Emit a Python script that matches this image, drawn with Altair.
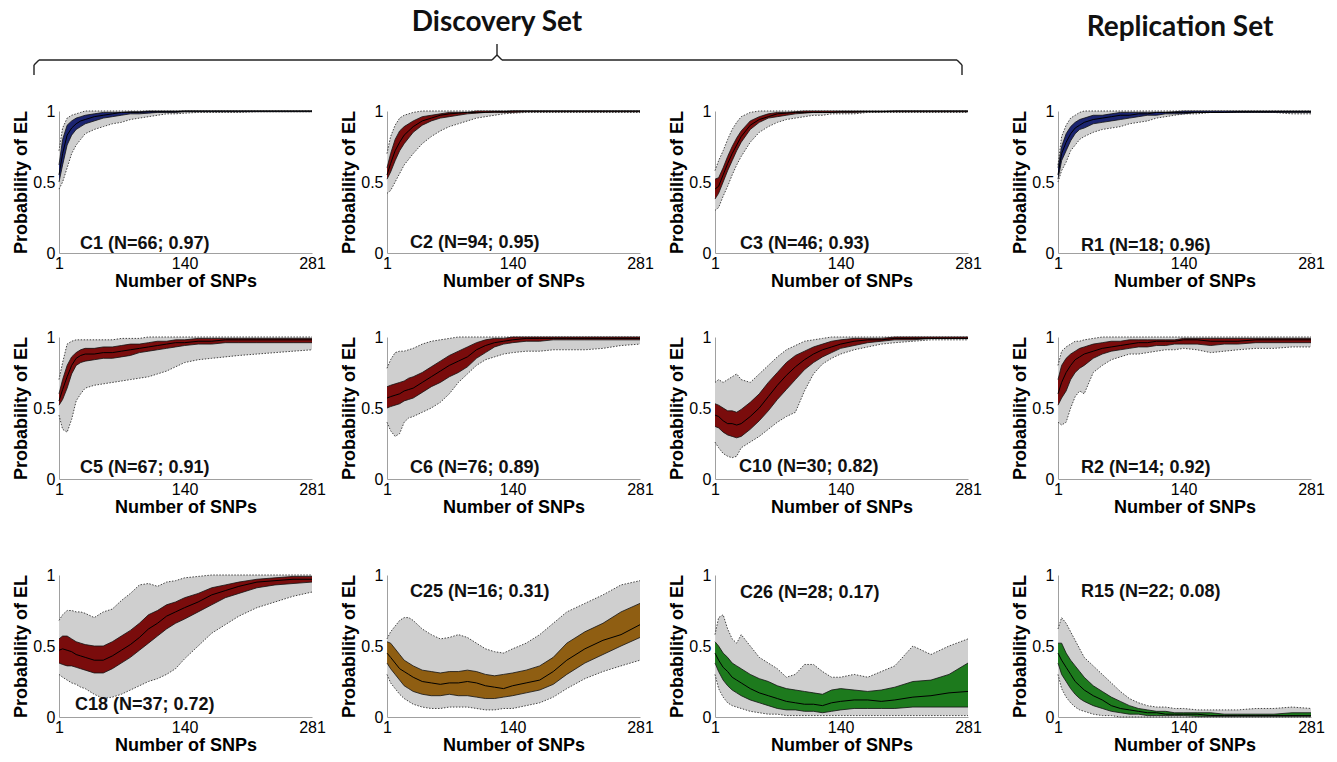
import altair as alt
import pandas as pd

XS = [1, 5, 10, 15, 20, 25, 30, 40, 50, 60, 70, 80, 90,
      100, 110, 120, 130, 140, 155, 170, 185, 200, 220, 240, 260, 281]

C1 = {
    "lo":  [0.45, 0.50, 0.60, 0.70, 0.76, 0.80, 0.84, 0.87, 0.89, 0.91, 0.92, 0.94, 0.95,
            0.96, 0.97, 0.98, 0.98, 0.985, 0.99, 0.99, 0.99, 0.99, 0.995, 0.995, 0.995, 0.995],
    "q1":  [0.50, 0.62, 0.76, 0.83, 0.87, 0.89, 0.91, 0.93, 0.95, 0.96, 0.97, 0.98, 0.98,
            0.985, 0.99, 0.99, 0.99, 0.995, 0.995, 0.995, 0.995, 0.995, 0.995, 0.995, 0.995, 0.995],
    "med": [0.55, 0.70, 0.83, 0.88, 0.91, 0.93, 0.94, 0.96, 0.97, 0.98, 0.99, 0.99, 0.99,
            0.995, 0.995, 0.995, 0.995, 1, 1, 1, 1, 1, 1, 1, 1, 1],
    "q3":  [0.62, 0.80, 0.90, 0.93, 0.95, 0.96, 0.97, 0.98, 0.99, 0.99, 0.99, 0.995, 0.995,
            1, 1, 1, 1, 1, 1, 1, 1, 1, 1, 1, 1, 1],
    "hi":  [0.72, 0.88, 0.95, 0.97, 0.98, 0.99, 1, 1, 1, 1, 1, 1, 1,
            1, 1, 1, 1, 1, 1, 1, 1, 1, 1, 1, 1, 1],
}
C2 = {
    "lo":  [0.42, 0.44, 0.50, 0.56, 0.62, 0.66, 0.70, 0.77, 0.82, 0.86, 0.89, 0.91, 0.93,
            0.95, 0.96, 0.97, 0.98, 0.985, 0.99, 0.99, 0.99, 0.99, 0.99, 0.99, 0.99, 0.99],
    "q1":  [0.52, 0.57, 0.65, 0.72, 0.77, 0.81, 0.85, 0.90, 0.93, 0.95, 0.96, 0.97, 0.98,
            0.985, 0.99, 0.99, 0.99, 0.99, 0.995, 0.995, 0.995, 0.995, 0.995, 0.995, 0.995, 0.995],
    "med": [0.55, 0.63, 0.72, 0.78, 0.83, 0.86, 0.89, 0.93, 0.95, 0.97, 0.98, 0.985, 0.99,
            0.99, 0.99, 0.995, 0.995, 1, 1, 1, 1, 1, 1, 1, 1, 1],
    "q3":  [0.60, 0.70, 0.80, 0.86, 0.89, 0.91, 0.93, 0.96, 0.97, 0.98, 0.99, 0.99, 0.99,
            1, 1, 1, 1, 1, 1, 1, 1, 1, 1, 1, 1, 1],
    "hi":  [0.70, 0.82, 0.90, 0.95, 0.97, 0.98, 0.99, 1, 1, 1, 1, 1, 1,
            1, 1, 1, 1, 1, 1, 1, 1, 1, 1, 1, 1, 1],
}
C3 = {
    "lo":  [0.30, 0.32, 0.40, 0.47, 0.55, 0.62, 0.68, 0.78, 0.85, 0.89, 0.92, 0.94, 0.95,
            0.96, 0.97, 0.97, 0.98, 0.98, 0.98, 0.99, 0.99, 0.99, 0.99, 0.99, 0.99, 0.99],
    "q1":  [0.38, 0.42, 0.50, 0.58, 0.65, 0.72, 0.78, 0.87, 0.92, 0.95, 0.96, 0.97, 0.98,
            0.985, 0.99, 0.99, 0.99, 0.99, 0.99, 0.995, 0.995, 0.995, 0.995, 0.995, 0.995, 0.995],
    "med": [0.45, 0.47, 0.55, 0.63, 0.70, 0.76, 0.82, 0.90, 0.94, 0.96, 0.98, 0.985, 0.99,
            0.99, 0.99, 0.99, 0.99, 0.995, 0.995, 0.995, 0.995, 1, 1, 1, 1, 1],
    "q3":  [0.52, 0.53, 0.60, 0.68, 0.75, 0.81, 0.86, 0.93, 0.96, 0.98, 0.99, 0.99, 0.995,
            1, 1, 1, 1, 1, 1, 1, 1, 1, 1, 1, 1, 1],
    "hi":  [0.58, 0.65, 0.72, 0.80, 0.87, 0.92, 0.96, 0.99, 1, 1, 1, 1, 1,
            1, 1, 1, 1, 1, 1, 1, 1, 1, 1, 1, 1, 1],
}
R1 = {
    "lo":  [0.50, 0.58, 0.64, 0.72, 0.76, 0.80, 0.82, 0.85, 0.87, 0.88, 0.89, 0.91, 0.92,
            0.93, 0.95, 0.96, 0.97, 0.98, 0.98, 0.99, 0.99, 0.99, 0.99, 0.99, 0.98, 0.98],
    "q1":  [0.52, 0.65, 0.72, 0.79, 0.84, 0.87, 0.88, 0.91, 0.92, 0.93, 0.94, 0.95, 0.96,
            0.97, 0.97, 0.98, 0.98, 0.98, 0.99, 0.99, 0.99, 0.99, 0.99, 0.99, 0.99, 0.99],
    "med": [0.55, 0.70, 0.78, 0.84, 0.88, 0.90, 0.92, 0.94, 0.95, 0.96, 0.97, 0.97, 0.98,
            0.98, 0.99, 0.99, 0.99, 0.99, 0.99, 0.99, 0.99, 0.995, 0.995, 0.995, 0.995, 0.995],
    "q3":  [0.60, 0.75, 0.84, 0.89, 0.92, 0.94, 0.95, 0.97, 0.97, 0.98, 0.99, 0.99, 0.99,
            0.99, 0.99, 0.99, 0.995, 1, 1, 1, 1, 1, 1, 1, 1, 1],
    "hi":  [0.62, 0.82, 0.90, 0.95, 0.97, 0.99, 1, 1, 1, 1, 1, 1, 1,
            1, 1, 1, 1, 1, 1, 1, 1, 1, 1, 1, 1, 1],
}
C5 = {
    "lo":  [0.45, 0.35, 0.33, 0.42, 0.55, 0.60, 0.64, 0.66, 0.67, 0.68, 0.69, 0.70, 0.71,
            0.72, 0.74, 0.76, 0.79, 0.82, 0.84, 0.85, 0.86, 0.87, 0.88, 0.89, 0.90, 0.91],
    "q1":  [0.52, 0.56, 0.64, 0.74, 0.80, 0.82, 0.83, 0.84, 0.85, 0.85, 0.86, 0.87, 0.89,
            0.90, 0.91, 0.92, 0.93, 0.94, 0.95, 0.95, 0.96, 0.96, 0.96, 0.96, 0.96, 0.96],
    "med": [0.55, 0.63, 0.72, 0.80, 0.85, 0.87, 0.88, 0.88, 0.89, 0.89, 0.90, 0.91, 0.92,
            0.93, 0.94, 0.95, 0.96, 0.96, 0.97, 0.97, 0.98, 0.98, 0.98, 0.98, 0.98, 0.98],
    "q3":  [0.60, 0.70, 0.80, 0.86, 0.89, 0.91, 0.92, 0.92, 0.93, 0.93, 0.94, 0.95, 0.95,
            0.96, 0.97, 0.97, 0.98, 0.98, 0.99, 0.99, 0.99, 0.99, 0.99, 0.99, 0.99, 0.99],
    "hi":  [0.70, 0.82, 0.95, 0.97, 0.98, 0.98, 0.98, 0.98, 0.98, 0.98, 0.99, 0.99, 0.99,
            1, 1, 1, 1, 1, 1, 1, 1, 1, 1, 1, 1, 1],
}
C6 = {
    "lo":  [0.40, 0.34, 0.30, 0.32, 0.40, 0.43, 0.44, 0.47, 0.50, 0.54, 0.60, 0.68, 0.74,
            0.80, 0.84, 0.86, 0.88, 0.89, 0.90, 0.90, 0.91, 0.91, 0.91, 0.92, 0.94, 0.95],
    "q1":  [0.50, 0.51, 0.52, 0.53, 0.55, 0.56, 0.57, 0.61, 0.65, 0.68, 0.72, 0.75, 0.79,
            0.85, 0.89, 0.93, 0.95, 0.96, 0.97, 0.97, 0.98, 0.98, 0.98, 0.98, 0.98, 0.98],
    "med": [0.57, 0.58, 0.59, 0.60, 0.62, 0.63, 0.64, 0.68, 0.72, 0.76, 0.80, 0.83, 0.86,
            0.91, 0.94, 0.96, 0.97, 0.98, 0.99, 0.99, 0.99, 0.99, 0.99, 0.99, 0.99, 0.99],
    "q3":  [0.65, 0.66, 0.67, 0.68, 0.69, 0.71, 0.72, 0.75, 0.79, 0.83, 0.87, 0.90, 0.93,
            0.96, 0.98, 0.99, 0.99, 1, 1, 1, 1, 1, 1, 1, 1, 1],
    "hi":  [0.78, 0.84, 0.89, 0.90, 0.90, 0.91, 0.92, 0.95, 0.97, 0.98, 0.99, 1, 1,
            1, 1, 1, 1, 1, 1, 1, 1, 1, 1, 1, 1, 1],
}
C10 = {
    "lo":  [0.26, 0.22, 0.18, 0.16, 0.15, 0.16, 0.22, 0.26, 0.30, 0.35, 0.40, 0.44, 0.47,
            0.62, 0.74, 0.81, 0.85, 0.88, 0.91, 0.93, 0.95, 0.96, 0.97, 0.98, 0.98, 0.98],
    "q1":  [0.37, 0.36, 0.33, 0.31, 0.30, 0.29, 0.30, 0.35, 0.41, 0.48, 0.56, 0.63, 0.70,
            0.77, 0.82, 0.86, 0.89, 0.92, 0.94, 0.96, 0.97, 0.98, 0.98, 0.99, 0.99, 0.99],
    "med": [0.45, 0.44, 0.41, 0.39, 0.39, 0.38, 0.39, 0.44, 0.50, 0.58, 0.66, 0.73, 0.79,
            0.84, 0.88, 0.91, 0.93, 0.95, 0.97, 0.98, 0.98, 0.99, 0.99, 0.99, 0.99, 0.99],
    "q3":  [0.53, 0.52, 0.50, 0.48, 0.48, 0.47, 0.49, 0.54, 0.60, 0.68, 0.75, 0.82, 0.87,
            0.90, 0.93, 0.95, 0.97, 0.98, 0.99, 0.99, 0.99, 1, 1, 1, 1, 1],
    "hi":  [0.68, 0.70, 0.68, 0.70, 0.72, 0.74, 0.70, 0.68, 0.74, 0.80, 0.86, 0.91, 0.94,
            0.97, 0.98, 0.99, 1, 1, 1, 1, 1, 1, 1, 1, 1, 1],
}
R2 = {
    "lo":  [0.40, 0.38, 0.40, 0.50, 0.58, 0.62, 0.60, 0.75, 0.80, 0.84, 0.86, 0.88, 0.88,
            0.89, 0.90, 0.91, 0.91, 0.92, 0.91, 0.89, 0.90, 0.91, 0.92, 0.92, 0.93, 0.93],
    "q1":  [0.52, 0.57, 0.62, 0.70, 0.75, 0.78, 0.80, 0.85, 0.88, 0.90, 0.91, 0.92, 0.93,
            0.93, 0.94, 0.94, 0.95, 0.95, 0.95, 0.94, 0.95, 0.95, 0.96, 0.96, 0.96, 0.96],
    "med": [0.60, 0.68, 0.75, 0.80, 0.84, 0.86, 0.88, 0.90, 0.92, 0.93, 0.94, 0.95, 0.96,
            0.96, 0.97, 0.97, 0.97, 0.98, 0.98, 0.97, 0.97, 0.97, 0.98, 0.98, 0.98, 0.98],
    "q3":  [0.70, 0.80, 0.85, 0.88, 0.90, 0.92, 0.93, 0.95, 0.96, 0.97, 0.97, 0.98, 0.98,
            0.98, 0.98, 0.98, 0.98, 0.99, 0.99, 0.99, 0.99, 0.99, 0.99, 0.99, 0.99, 0.99],
    "hi":  [0.80, 0.90, 0.93, 0.95, 0.97, 0.97, 0.98, 0.99, 1, 1, 1, 1, 1,
            1, 1, 1, 1, 1, 1, 1, 1, 1, 1, 1, 1, 1],
}
C18 = {
    "lo":  [0.30, 0.28, 0.26, 0.24, 0.23, 0.21, 0.20, 0.16, 0.13, 0.14, 0.16, 0.19, 0.22,
            0.25, 0.27, 0.30, 0.34, 0.41, 0.50, 0.59, 0.65, 0.71, 0.77, 0.81, 0.85, 0.88],
    "q1":  [0.38, 0.37, 0.36, 0.36, 0.35, 0.34, 0.33, 0.31, 0.31, 0.34, 0.38, 0.42, 0.47,
            0.52, 0.57, 0.62, 0.66, 0.69, 0.74, 0.79, 0.84, 0.87, 0.91, 0.93, 0.94, 0.95],
    "med": [0.47, 0.48, 0.47, 0.46, 0.44, 0.43, 0.42, 0.40, 0.40, 0.43, 0.47, 0.51, 0.56,
            0.62, 0.66, 0.71, 0.74, 0.77, 0.81, 0.86, 0.89, 0.92, 0.95, 0.96, 0.97, 0.97],
    "q3":  [0.55, 0.57, 0.57, 0.55, 0.53, 0.52, 0.51, 0.50, 0.50, 0.53, 0.57, 0.61, 0.66,
            0.72, 0.75, 0.79, 0.81, 0.84, 0.87, 0.91, 0.93, 0.95, 0.97, 0.98, 0.99, 0.99],
    "hi":  [0.68, 0.72, 0.75, 0.75, 0.74, 0.74, 0.73, 0.70, 0.74, 0.76, 0.82, 0.87, 0.93,
            0.94, 0.92, 0.95, 0.96, 0.98, 0.99, 1, 1, 1, 1, 1, 1, 1],
}
C25 = {
    "lo":  [0.30, 0.24, 0.20, 0.16, 0.13, 0.11, 0.09, 0.07, 0.06, 0.06, 0.07, 0.07, 0.07,
            0.06, 0.05, 0.05, 0.06, 0.06, 0.08, 0.10, 0.14, 0.20, 0.27, 0.32, 0.36, 0.40],
    "q1":  [0.38, 0.34, 0.30, 0.26, 0.22, 0.20, 0.18, 0.16, 0.15, 0.15, 0.16, 0.15, 0.15,
            0.14, 0.13, 0.13, 0.14, 0.15, 0.17, 0.19, 0.23, 0.30, 0.38, 0.44, 0.50, 0.56],
    "med": [0.45, 0.42, 0.38, 0.34, 0.32, 0.30, 0.28, 0.25, 0.24, 0.23, 0.24, 0.24, 0.25,
            0.24, 0.22, 0.21, 0.20, 0.22, 0.24, 0.26, 0.32, 0.40, 0.48, 0.54, 0.58, 0.65],
    "q3":  [0.53, 0.52, 0.48, 0.44, 0.40, 0.38, 0.36, 0.33, 0.32, 0.31, 0.32, 0.32, 0.33,
            0.32, 0.30, 0.29, 0.30, 0.31, 0.33, 0.36, 0.42, 0.52, 0.60, 0.66, 0.74, 0.80],
    "hi":  [0.55, 0.60, 0.64, 0.68, 0.70, 0.70, 0.68, 0.62, 0.58, 0.55, 0.56, 0.58, 0.56,
            0.52, 0.48, 0.46, 0.45, 0.48, 0.52, 0.58, 0.66, 0.74, 0.80, 0.86, 0.93, 0.96],
}
C26 = {
    "lo":  [0.30, 0.20, 0.14, 0.10, 0.08, 0.07, 0.06, 0.04, 0.03, 0.02, 0.02, 0.01, 0.01,
            0.01, 0.01, 0.01, 0.01, 0.01, 0.01, 0.01, 0.01, 0.01, 0.01, 0.01, 0.01, 0.01],
    "q1":  [0.38, 0.32, 0.26, 0.22, 0.19, 0.17, 0.15, 0.12, 0.10, 0.08, 0.06, 0.05, 0.05,
            0.04, 0.04, 0.03, 0.04, 0.05, 0.06, 0.06, 0.06, 0.06, 0.07, 0.07, 0.07, 0.07],
    "med": [0.45, 0.40, 0.35, 0.32, 0.28, 0.26, 0.24, 0.20, 0.17, 0.15, 0.13, 0.11, 0.10,
            0.09, 0.09, 0.08, 0.10, 0.11, 0.12, 0.12, 0.11, 0.12, 0.14, 0.15, 0.17, 0.18],
    "q3":  [0.53, 0.50, 0.45, 0.42, 0.38, 0.36, 0.34, 0.30, 0.27, 0.25, 0.22, 0.20, 0.19,
            0.18, 0.17, 0.16, 0.19, 0.20, 0.19, 0.18, 0.19, 0.21, 0.25, 0.26, 0.30, 0.38],
    "hi":  [0.58, 0.70, 0.72, 0.62, 0.55, 0.52, 0.58, 0.50, 0.42, 0.38, 0.34, 0.28, 0.30,
            0.37, 0.37, 0.32, 0.28, 0.28, 0.30, 0.28, 0.32, 0.36, 0.50, 0.44, 0.50, 0.55],
}
R15 = {
    "lo":  [0.30, 0.20, 0.14, 0.10, 0.07, 0.05, 0.04, 0.02, 0.01, 0.01, 0, 0, 0,
            0, 0, 0, 0, 0, 0, 0, 0, 0, 0, 0, 0, 0],
    "q1":  [0.38, 0.30, 0.25, 0.20, 0.16, 0.13, 0.11, 0.08, 0.06, 0.04, 0.03, 0.02, 0.02,
            0.01, 0.01, 0.01, 0.01, 0.01, 0.005, 0.005, 0.005, 0.005, 0.005, 0.005, 0.005, 0.005],
    "med": [0.45, 0.40, 0.35, 0.30, 0.25, 0.22, 0.19, 0.15, 0.12, 0.08, 0.06, 0.05, 0.04,
            0.03, 0.03, 0.02, 0.02, 0.02, 0.02, 0.01, 0.01, 0.01, 0.01, 0.01, 0.01, 0.01],
    "q3":  [0.52, 0.52, 0.45, 0.40, 0.36, 0.32, 0.28, 0.22, 0.18, 0.14, 0.11, 0.08, 0.06,
            0.05, 0.04, 0.04, 0.03, 0.03, 0.03, 0.03, 0.02, 0.02, 0.02, 0.02, 0.03, 0.03],
    "hi":  [0.62, 0.70, 0.66, 0.60, 0.54, 0.48, 0.42, 0.36, 0.30, 0.24, 0.18, 0.13, 0.10,
            0.08, 0.07, 0.07, 0.06, 0.06, 0.05, 0.05, 0.05, 0.05, 0.06, 0.06, 0.07, 0.06],
}

LABELS = {
    "C1": "C1 (N=66; 0.97)", "C2": "C2 (N=94; 0.95)", "C3": "C3 (N=46; 0.93)",
    "R1": "R1 (N=18; 0.96)", "C5": "C5 (N=67; 0.91)", "C6": "C6 (N=76; 0.89)",
    "C10": "C10 (N=30; 0.82)", "R2": "R2 (N=14; 0.92)", "C18": "C18 (N=37; 0.72)",
    "C25": "C25 (N=16; 0.31)", "C26": "C26 (N=28; 0.17)", "R15": "R15 (N=22; 0.08)",
}
HEADERS = ["Discovery Set", "Replication Set"]

NAVY = "#1b2470"
RED = "#7a0c0c"
BROWN = "#8f5e12"
GREEN = "#1d7a1d"

W, H = 253, 142
FONT = "Liberation Sans"


def xenc():
    return alt.X("snp:Q", title="Number of SNPs",
                 scale=alt.Scale(domain=[1, 281], nice=False, zero=False),
                 axis=alt.Axis(values=[1, 140, 281], labelFlush=False))


def yenc(field):
    return alt.Y(f"{field}:Q", title="Probability of EL",
                 scale=alt.Scale(domain=[0, 1], nice=False, zero=False),
                 axis=alt.Axis(values=[0, 0.5, 1], format="~g"))


def panel(key, data, color, tx, ty, extra=None):
    df = pd.DataFrame({"snp": XS, **data})
    base = alt.Chart(df).encode(x=xenc())
    whisk = base.mark_area(color="#cfcfcf").encode(y=yenc("lo"), y2="hi:Q")
    lo_l = base.mark_line(color="#444", strokeWidth=1, strokeDash=[1.5, 1.5]).encode(y=yenc("lo"))
    hi_l = base.mark_line(color="#444", strokeWidth=1, strokeDash=[1.5, 1.5]).encode(y=yenc("hi"))
    box = base.mark_area(color=color).encode(y=yenc("q1"), y2="q3:Q")
    q1_l = base.mark_line(color="#111", strokeWidth=0.8).encode(y=yenc("q1"))
    q3_l = base.mark_line(color="#111", strokeWidth=0.8).encode(y=yenc("q3"))
    med = base.mark_line(color="#000", strokeWidth=1).encode(y=yenc("med"))
    txt = alt.Chart(pd.DataFrame({"t": [LABELS[key]]})).mark_text(
        align="left", baseline="middle", font=FONT, fontSize=18, fontWeight="bold", color="#111"
    ).encode(x=alt.value(tx), y=alt.value(ty), text="t:N")
    layers = [whisk, lo_l, hi_l, box, q1_l, q3_l, med, txt]
    if extra:
        layers += extra
    return alt.layer(*layers).properties(width=W, height=H)


# header decoration (title texts and the brace), placed relative to the first panel
one = pd.DataFrame({"a": [0]})
head_txt = [
    alt.Chart(pd.DataFrame({"t": [HEADERS[0]]})).mark_text(
        font="Lato", fontSize=28, fontWeight="bold", color="#111", baseline="middle"
    ).encode(x=alt.value(438), y=alt.value(-88), text="t:N"),
    alt.Chart(pd.DataFrame({"t": [HEADERS[1]]})).mark_text(
        font="Lato", fontSize=28, fontWeight="bold", color="#111", baseline="middle"
    ).encode(x=alt.value(1121), y=alt.value(-83), text="t:N"),
]
segs = [(-25, -36, -25, -46), (-25, -46, -20, -51), (-20, -51, 433, -51),
        (433, -51, 438, -56), (438, -56, 438, -67), (443, -51, 438, -56),
        (443, -51, 898, -51), (898, -51, 903, -46), (903, -46, 903, -36)]
brace = [alt.Chart(one).mark_rule(color="#222", strokeWidth=1.4).encode(
    x=alt.value(a), y=alt.value(b), x2=alt.value(c), y2=alt.value(d)) for a, b, c, d in segs]

p = {
    "C1": panel("C1", C1, NAVY, 21, 133, head_txt + brace),
    "C2": panel("C2", C2, RED, 23, 132),
    "C3": panel("C3", C3, RED, 25, 133),
    "R1": panel("R1", R1, NAVY, 23, 135),
    "C5": panel("C5", C5, RED, 21, 131),
    "C6": panel("C6", C6, RED, 23, 131),
    "C10": panel("C10", C10, RED, 24, 130),
    "R2": panel("R2", R2, RED, 23, 131),
    "C18": panel("C18", C18, RED, 16, 130),
    "C25": panel("C25", C25, BROWN, 23, 17),
    "C26": panel("C26", C26, GREEN, 25, 18),
    "R15": panel("R15", R15, GREEN, 23, 17),
}


def row(a, b, c, d):
    # discovery panels share one spacing; the replication panel sits further right.
    # With flush bounds a nested concat counts as zero-width, so the outer spacing
    # is the offset of the replication panel from the row start.
    disc = alt.hconcat(a, b, c, spacing=75, bounds="flush")
    return alt.hconcat(disc, d, spacing=999, bounds="flush")


r1 = row(p["C1"], p["C2"], p["C3"], p["R1"])
r2 = row(p["C5"], p["C6"], p["C10"], p["R2"])
r3 = row(p["C18"], p["C25"], p["C26"], p["R15"])

top_two = alt.vconcat(r1, r2, spacing=226, bounds="flush")
chart = alt.vconcat(top_two, r3, spacing=464, bounds="flush").properties(
    padding={"left": 12, "top": 9, "right": 5, "bottom": 2}
).configure_view(stroke=None).configure_axis(
    domainColor="#a0a0a0", domainWidth=1, ticks=False, grid=False,
    labelFont=FONT, labelFontSize=16, labelColor="#000",
    titleFont=FONT, titleFontSize=18, titleFontWeight="bold", titleColor="#000",
).configure_axisX(labelPadding=2, titlePadding=1).configure_axisY(labelPadding=4, titlePadding=2)

chart.save("out.html", embed_options={"renderer": "svg", "actions": False})
